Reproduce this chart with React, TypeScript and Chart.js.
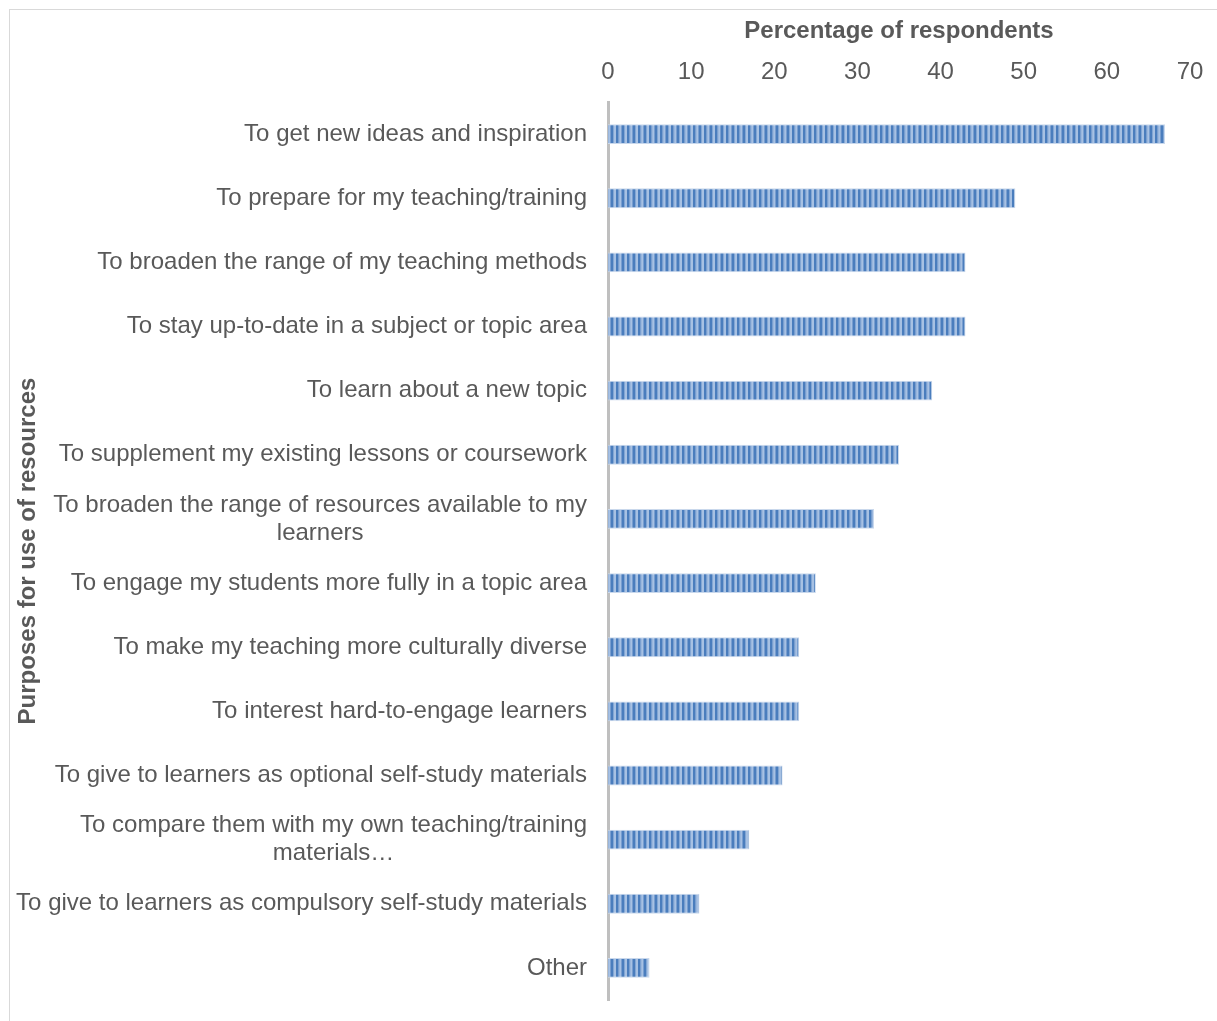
import React, { useEffect, useRef } from "react";
import { Chart, registerables } from "chart.js";

Chart.register(...registerables);

const categories: (string | string[])[] = [
  "To get new ideas and inspiration",
  "To prepare for my teaching/training",
  "To broaden the range of my teaching methods",
  "To stay up-to-date in a subject or topic area",
  "To learn about a new topic",
  "To supplement my existing lessons or coursework",
  ["To broaden the range of resources available to my", "learners"],
  "To engage my students more fully in a topic area",
  "To make my teaching more culturally diverse",
  "To interest hard-to-engage learners",
  "To give to learners as optional self-study materials",
  ["To compare them with my own teaching/training", "materials…"],
  "To give to learners as compulsory self-study materials",
  "Other",
];

const percentages: number[] = [67, 49, 43, 43, 39, 35, 32, 25, 23, 23, 21, 17, 11, 5];

const xTickValues: number[] = [0, 10, 20, 30, 40, 50, 60, 70];

const xTitle = "Percentage of respondents";
const yTitle = "Purposes for use of resources";

const FONT = "'Liberation Sans', Arial, sans-serif";
const TEXT = "#595959";
const SIZE = 24;

function makePattern(ctx: CanvasRenderingContext2D): CanvasPattern | string {
  const c = document.createElement("canvas");
  c.width = 11;
  c.height = 4;
  const g = c.getContext("2d");
  if (!g) return "#4f81bd";
  g.fillStyle = "#a7c1e3";
  g.fillRect(0, 0, 11, 4);
  g.fillStyle = "#4a7dbd";
  g.fillRect(0, 0, 2.5, 4);
  g.fillRect(5.5, 0, 2.5, 4);
  g.fillStyle = "#7a9fd0";
  g.fillRect(2.5, 0, 0.8, 4);
  g.fillRect(8, 0, 0.8, 4);
  const p = ctx.createPattern(c, "repeat");
  return p || "#4f81bd";
}

const labelPlugin = {
  id: "customYLabels",
  afterDraw(chart: any) {
    const ctx: CanvasRenderingContext2D = chart.ctx;
    const yScale = chart.scales.y;
    const rightX = 587;
    const lineH = 28;
    ctx.save();
    ctx.font = `${SIZE}px ${FONT}`;
    ctx.fillStyle = TEXT;
    ctx.textBaseline = "middle";
    categories.forEach((lab, i) => {
      const y = yScale.getPixelForValue(i);
      const lines = Array.isArray(lab) ? lab : [lab];
      if (lines.length === 1) {
        ctx.textAlign = "right";
        ctx.fillText(lines[0], rightX, y);
      } else {
        const w = Math.max(...lines.map((l) => ctx.measureText(l).width));
        const cx = rightX - w / 2;
        ctx.textAlign = "center";
        const startY = y - ((lines.length - 1) * lineH) / 2;
        lines.forEach((l, k) => ctx.fillText(l, cx, startY + k * lineH));
      }
    });
    ctx.restore();
  },
};

export default function App() {
  const ref = useRef<HTMLCanvasElement | null>(null);

  useEffect(() => {
    const canvas = ref.current;
    if (!canvas) return;
    const ctx = canvas.getContext("2d");
    if (!ctx) return;
    const pattern = makePattern(ctx);
    const chart = new Chart(ctx, {
      type: "bar",
      data: {
        labels: categories.map((c) => (Array.isArray(c) ? c.join(" ") : c)),
        datasets: [
          {
            data: percentages,
            backgroundColor: pattern as any,
            borderColor: "#c9d8ec",
            borderWidth: 1,
            borderSkipped: "start",
            categoryPercentage: 1,
            barPercentage: 0.31,
          },
        ],
      },
      options: {
        indexAxis: "y",
        animation: false,
        responsive: false,
        maintainAspectRatio: false,
        layout: { padding: { left: 10, right: 27, top: 10, bottom: 21 } },
        plugins: {
          legend: { display: false },
          tooltip: { enabled: false },
        },
        scales: {
          x: {
            position: "top",
            min: 0,
            max: 70,
            afterBuildTicks: (scale: any) => {
              scale.ticks = xTickValues.map((v) => ({ value: v }));
            },
            afterFit: (scale: any) => {
              scale.height = 92;
              scale.paddingLeft = 0;
              scale.paddingRight = 0;
            },
            grid: { display: false, drawTicks: false },
            border: { display: false },
            ticks: {
              color: TEXT,
              font: { family: FONT, size: SIZE },
              padding: 15,
            },
            title: {
              display: true,
              text: xTitle,
              color: TEXT,
              font: { family: FONT, size: SIZE, weight: "bold" },
              padding: { top: 7, bottom: 0 },
            },
          },
          y: {
            afterFit: (scale: any) => {
              scale.width = 598;
            },
            grid: { display: false, drawTicks: false },
            border: { display: true, color: "#bfbfbf", width: 3 },
            ticks: { display: false },
            title: {
              display: true,
              text: yTitle,
              color: TEXT,
              font: { family: FONT, size: SIZE, weight: "bold" },
              padding: { top: 4, bottom: 0 },
            },
          },
        },
      },
      plugins: [labelPlugin],
    });
    return () => chart.destroy();
  }, []);

  return (
    <div
      style={{
        position: "fixed",
        left: 0,
        top: 0,
        width: 1217,
        height: 1021,
        overflow: "hidden",
        background: "#ffffff",
      }}
    >
      <div
        style={{
          position: "absolute",
          left: 9,
          top: 9,
          width: 1300,
          height: 1100,
          borderLeft: "1.5px solid #d9d9d9",
          borderTop: "1.5px solid #d9d9d9",
        }}
      />
      <canvas
        ref={ref}
        width={1217}
        height={1021}
        style={{ position: "absolute", left: 0, top: 0, width: 1217, height: 1021 }}
      />
    </div>
  );
}
